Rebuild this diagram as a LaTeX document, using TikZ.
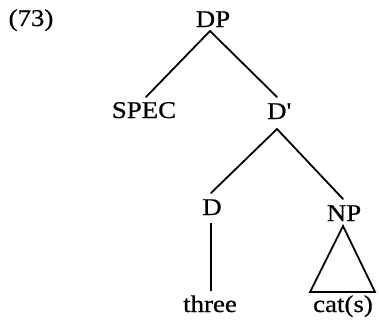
\documentclass[tikz,border=0pt]{standalone}
\usepackage{fontspec}
\setmainfont{Liberation Serif}[FakeStretch=1.12,FakeBold=0.6]
\begin{document}
\begin{tikzpicture}[x=1pt,y=-1pt,
  lbl/.style={anchor=base,inner sep=0pt,font=\fontsize{24}{28}\selectfont},
  edge/.style={line width=1.8pt,line cap=round,line join=miter}]
\useasboundingbox (0,0) rectangle (379,324);
\node[lbl] (ex) at (31,26) {(73)};
\node[lbl] (dp) at (213,27) {DP};
\node[lbl] (spec) at (144,118) {SPEC};
\node[lbl] (dbar) at (279,119) {D\textquotesingle};
\node[lbl] (d) at (212,215) {D};
\node[lbl] (np) at (344,221) {NP};
\node[lbl] (three) at (210,312) {three};
\node[lbl] (cats) at (343,312) {cat(s)};
\draw[edge] ([xshift=-3pt,yshift=-4pt]dp.base) -- ([xshift=2pt,yshift=21pt]spec.base);
\draw[edge] ([xshift=-3pt,yshift=-4pt]dp.base) -- ([xshift=-2pt,yshift=22pt]dbar.base);
\draw[edge] ([xshift=-2pt,yshift=-10pt]dbar.base) -- ([xshift=-1pt,yshift=22pt]d.base);
\draw[edge] ([xshift=-2pt,yshift=-10pt]dbar.base) -- ([xshift=-1pt,yshift=22pt]np.base);
\draw[line width=1.1pt] ([xshift=-1pt,yshift=-8pt]d.base) -- ([xshift=1pt,yshift=21pt]three.base);
\draw[edge] ([xshift=-1pt,yshift=-5pt]np.base) -- ([xshift=-33pt,yshift=20pt]cats.base) -- ([xshift=32pt,yshift=20pt]cats.base) -- cycle;
\end{tikzpicture}
\end{document}
